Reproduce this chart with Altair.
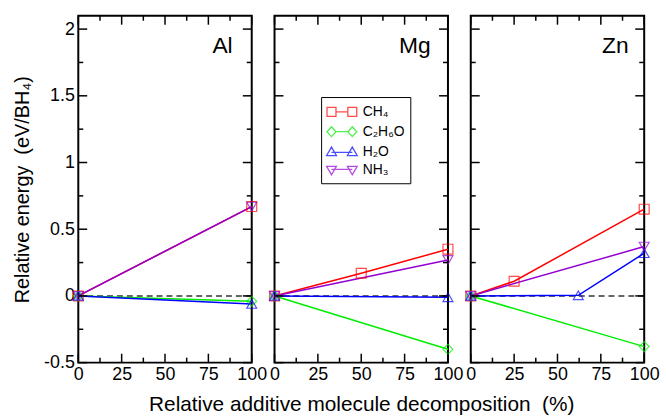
import altair as alt
import pandas as pd

FONT = "Liberation Sans"
W, H = 175, 350
X_DOM = [0, 100]
Y_DOM = [-0.5, 2.1]

# ---- data ----
series = ["CH₄", "C₂H₆O", "H₂O", "NH₃"]
colors = ["#ff0000", "#00ee00", "#0000ff", "#9400d3"]
shapes = ["square", "diamond", "triangle-up", "triangle-down"]

panel_names = ["Al", "Mg", "Zn"]
label_x = [89, 90, 91]
label_y = [1.87, 1.87, 1.87]

al_x = [[0, 100], [0, 100], [0, 100], [0, 100]]
al_y = [[0, 0.67], [0, -0.04], [0, -0.06], [0, 0.67]]

mg_x = [[0, 50, 100], [0, 100], [0, 100], [0, 100]]
mg_y = [[0, 0.17, 0.35], [0, -0.40], [0, -0.01], [0, 0.27]]

zn_x = [[0, 25, 100], [0, 100], [0, 62, 100], [0, 100]]
zn_y = [[0, 0.11, 0.65], [0, -0.38], [0, 0.005, 0.32], [0, 0.37]]

x_major = [0, 25, 50, 75, 100]
x_minor = [12.5, 37.5, 62.5, 87.5]
y_major = [-0.5, 0, 0.5, 1, 1.5, 2]
y_minor = [-0.25, 0.25, 0.75, 1.25, 1.75]

# legend symbols: line with a marker at each end (xmgrace style)
legend_paths = [
    "M-1,-0.5H0V0.5H-1Z M1.33,-0.5H2.33V0.5H1.33Z M0,0H1.33",
    "M-1,0L-0.5,-0.55L0,0L-0.5,0.55Z M1.33,0L1.83,-0.55L2.33,0L1.83,0.55Z M0,0H1.33",
    "M-1.05,0.45L-0.5,-0.5L0.05,0.45Z M1.28,0.45L1.83,-0.5L2.38,0.45Z M-0.5,0.1H1.83",
    "M-1.05,-0.45L-0.5,0.5L0.05,-0.45Z M1.28,-0.45L1.83,0.5L2.38,-0.45Z M-0.5,-0.1H1.83",
]


def make_df(xs_list, ys_list):
    rows = []
    for i, s in enumerate(series):
        for xv, yv in zip(xs_list[i], ys_list[i]):
            rows.append({"series": s, "x": xv, "y": yv})
    return pd.DataFrame(rows)


# inward tick marks: tick lengths converted from pixels to data units
def xtick_df(vals, px):
    ln = px * (Y_DOM[1] - Y_DOM[0]) / H
    rows = [{"x": v, "y": Y_DOM[0], "y2": Y_DOM[0] + ln} for v in vals]
    rows += [{"x": v, "y": Y_DOM[1], "y2": Y_DOM[1] - ln} for v in vals]
    return pd.DataFrame(rows)


def ytick_df(vals, px):
    ln = px * (X_DOM[1] - X_DOM[0]) / W
    rows = [{"y": v, "x": X_DOM[0], "x2": X_DOM[0] + ln} for v in vals]
    rows += [{"y": v, "x": X_DOM[1], "x2": X_DOM[1] - ln} for v in vals]
    return pd.DataFrame(rows)


xs = alt.Scale(domain=X_DOM, nice=False, zero=False)
ys = alt.Scale(domain=Y_DOM, nice=False, zero=False)
cscale = alt.Scale(domain=series, range=colors)


def panel(idx, df, first, middle):
    xtitle = "Relative additive molecule decomposition \u00a0(%)" if middle else None
    xaxis = alt.Axis(values=x_major, labelFontSize=18, ticks=False, domain=False,
                     grid=False, labelFlush=False, labelPadding=3,
                     title=xtitle, titleFontSize=21, titlePadding=10)
    if first:
        yaxis = alt.Axis(values=y_major, labelFontSize=18, ticks=False, domain=False,
                         grid=False, labelFlush=False, labelPadding=4,
                         labelExpr="toString(datum.value)",
                         title="Relative energy \u00a0(eV/BH₄)", titleFontSize=20,
                         titlePadding=11)
    else:
        yaxis = None

    def X(field):
        return alt.X(field, scale=xs, axis=xaxis)

    def Y(field):
        return alt.Y(field, scale=ys, axis=yaxis)

    def xticks(vals, px):
        return alt.Chart(xtick_df(vals, px)).mark_rule(color="black", strokeWidth=1.5).encode(
            x=X("x:Q"), y=Y("y:Q"), y2="y2:Q")

    def yticks(vals, px):
        return alt.Chart(ytick_df(vals, px)).mark_rule(color="black", strokeWidth=1.5).encode(
            y=Y("y:Q"), x=X("x:Q"), x2="x2:Q")

    zero = alt.Chart(pd.DataFrame({"y": [0.0]})).mark_rule(
        strokeDash=[6, 4], color="#333333", strokeWidth=1.5
    ).encode(y=Y("y:Q"))

    lines = alt.Chart(df).mark_line(strokeWidth=1.5).encode(
        x=X("x:Q"),
        y=Y("y:Q"),
        color=alt.Color("series:N", scale=cscale, legend=None),
        order=alt.Order("x:Q"),
    )
    points = alt.Chart(df).mark_point(filled=False, size=100, strokeWidth=1.2).encode(
        x=X("x:Q"),
        y=Y("y:Q"),
        color=alt.Color("series:N", scale=cscale, legend=None),
        shape=alt.Shape("series:N", scale=alt.Scale(domain=series, range=shapes), legend=None),
    )
    label = alt.Chart(pd.DataFrame({"name": [panel_names[idx]],
                                    "x": [label_x[idx]], "y": [label_y[idx]]})).mark_text(
        align="right", baseline="middle", fontSize=23, font=FONT, color="black"
    ).encode(
        x=X("x:Q"),
        y=Y("y:Q"),
        text="name:N",
    )
    layers = [zero, lines, points, label,
              xticks(x_major, 9), xticks(x_minor, 5),
              yticks(y_major, 9), yticks(y_minor, 5)]
    if middle:
        leg = alt.Legend(orient="none", legendX=47, legendY=82, title=None,
                         strokeColor="black", fillColor="white", padding=5,
                         labelFont=FONT, labelFontSize=14, labelColor="black",
                         symbolSize=324, symbolStrokeWidth=1.3, labelOffset=17,
                         rowPadding=2, cornerRadius=0)
        legend_layer = alt.Chart(pd.DataFrame({"series": series})).transform_filter(
            "false"
        ).mark_point(filled=False, strokeWidth=1.3).encode(
            color=alt.Color("series:N", scale=cscale, legend=leg),
            shape=alt.Shape("series:N", scale=alt.Scale(domain=series, range=legend_paths),
                            legend=leg),
        )
        layers.append(legend_layer)
    return alt.layer(*layers).properties(width=W, height=H).resolve_scale(
        color="independent", shape="independent"
    )


p1 = panel(0, make_df(al_x, al_y), True, False)
p2 = panel(1, make_df(mg_x, mg_y), False, True)
p3 = panel(2, make_df(zn_x, zn_y), False, False)

chart = alt.hconcat(p1, p2, p3, spacing=23, bounds="flush").resolve_scale(
    color="independent", shape="independent", x="independent", y="independent"
).properties(
    padding={"left": 11, "top": 12, "right": 5, "bottom": 5},
    background="white",
).configure_view(stroke="black", strokeWidth=2).configure_axis(
    labelFont=FONT, titleFont=FONT, labelColor="black", titleColor="black",
    titleFontWeight="normal"
).configure_legend(labelFont=FONT)

chart.save("out.html", embed_options={"renderer": "svg", "actions": False})
